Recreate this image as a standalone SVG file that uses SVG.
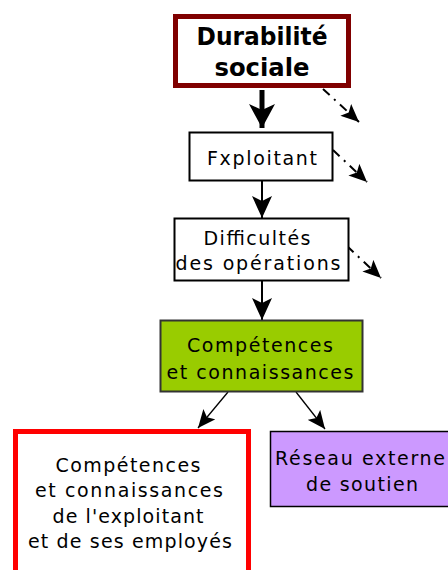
<svg xmlns="http://www.w3.org/2000/svg" width="448" height="570" viewBox="0 0 448 570">
<defs>
<style>
.t{font-family:"DejaVu Sans","Liberation Sans",sans-serif;font-size:19px;fill:#000;text-anchor:middle}
.b{font-family:"DejaVu Sans","Liberation Sans",sans-serif;font-size:24px;font-weight:bold;fill:#000;text-anchor:middle}
.c{stroke:#000;fill:none}
.d{stroke:#000;fill:none;stroke-width:2;stroke-dasharray:9 6 2 6}
</style>
<marker id="hb" markerUnits="userSpaceOnUse" viewBox="0 0 24 26" markerWidth="24" markerHeight="26" refX="24" refY="13" orient="auto"><path d="M0,0 L24,13 L0,26 L6,13 z" fill="#000"/></marker>
<marker id="hm" markerUnits="userSpaceOnUse" viewBox="0 0 22 20" markerWidth="22" markerHeight="20" refX="22" refY="10" orient="auto"><path d="M0,0 L22,10 L0,20 L5,10 z" fill="#000"/></marker>
<marker id="hs" markerUnits="userSpaceOnUse" viewBox="0 0 18 16" markerWidth="18" markerHeight="16" refX="18" refY="8" orient="auto"><path d="M0,0 L18,8 L0,16 L4,8 z" fill="#000"/></marker>
</defs>
<g id="connectors">
<line class="c" x1="262" y1="90" x2="262" y2="128" stroke-width="5" marker-end="url(#hb)"/>
<line class="c" x1="262" y1="181" x2="262" y2="218" stroke-width="2" marker-end="url(#hm)"/>
<line class="c" x1="262" y1="281" x2="262" y2="320" stroke-width="2" marker-end="url(#hm)"/>
<line class="c" x1="228" y1="392" x2="198" y2="428" stroke-width="1.3" marker-end="url(#hs)"/>
<line class="c" x1="296" y1="392" x2="325" y2="429" stroke-width="1.3" marker-end="url(#hs)"/>
<line class="d" x1="323" y1="89" x2="359" y2="122" marker-end="url(#hs)"/>
<line class="d" x1="333" y1="150" x2="367" y2="182" marker-end="url(#hs)"/>
<line class="d" x1="347" y1="246" x2="381" y2="278" marker-end="url(#hs)"/>
</g>
<g id="durabilite">
<rect x="175.5" y="16.5" width="173" height="69" fill="#fff" stroke="#800000" stroke-width="5"/>
<text class="b" x="262" y="45" textLength="131" lengthAdjust="spacingAndGlyphs">Durabilité</text>
<text class="b" x="262" y="76" textLength="95" lengthAdjust="spacingAndGlyphs">sociale</text>
</g>
<g id="exploitant">
<rect x="189.5" y="132.5" width="143" height="48" fill="#fff" stroke="#000" stroke-width="2"/>
<text class="t" x="262" y="165" textLength="110" lengthAdjust="spacing">Fxploitant</text>
</g>
<g id="difficultes">
<rect x="174.5" y="218.5" width="174" height="62" fill="#fff" stroke="#000" stroke-width="2"/>
<text class="t" x="257" y="245" textLength="107" lengthAdjust="spacing">Difficultés</text>
<text class="t" x="258" y="270" textLength="165" lengthAdjust="spacing">des opérations</text>
</g>
<g id="competences">
<rect x="160.5" y="320.5" width="202" height="71" fill="#99cc00" stroke="#333" stroke-width="2"/>
<text class="t" x="260" y="352" textLength="146" lengthAdjust="spacing">Compétences</text>
<text class="t" x="260" y="379" textLength="187" lengthAdjust="spacing">et connaissances</text>
</g>
<g id="competences-exploitant">
<rect x="15.5" y="431.5" width="233" height="150" fill="#fff" stroke="#ff0000" stroke-width="5"/>
<text class="t" x="128" y="472" textLength="145" lengthAdjust="spacing">Compétences</text>
<text class="t" x="129" y="497" textLength="188" lengthAdjust="spacing">et connaissances</text>
<text class="t" x="128" y="523" textLength="151" lengthAdjust="spacing">de l'exploitant</text>
<text class="t" x="130" y="548" textLength="204" lengthAdjust="spacing">et de ses employés</text>
</g>
<g id="reseau">
<rect x="270.5" y="431.5" width="190" height="75" fill="#cc99ff" stroke="#000" stroke-width="1.5"/>
<text class="t" x="360" y="465" textLength="170" lengthAdjust="spacing">Réseau externe</text>
<text class="t" x="362" y="491" textLength="112" lengthAdjust="spacing">de soutien</text>
</g>
</svg>
